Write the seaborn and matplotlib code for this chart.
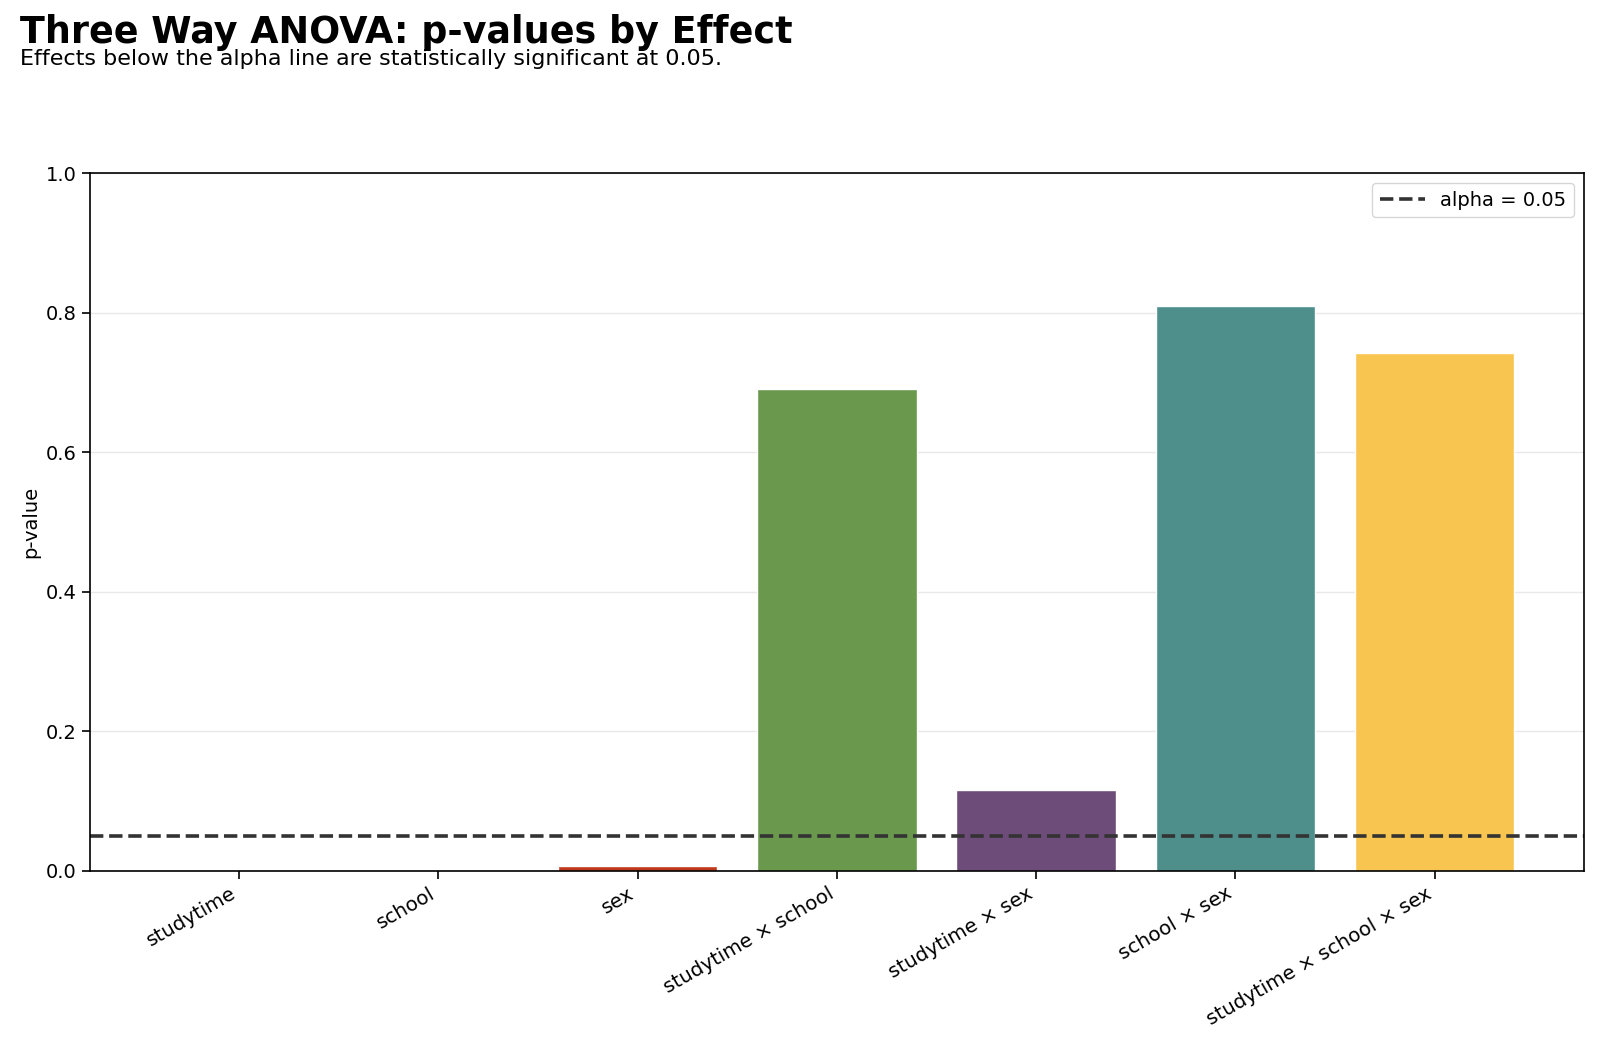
import matplotlib
matplotlib.use("Agg")
import matplotlib.pyplot as plt
import seaborn as sns
import pandas as pd

effects = ["studytime", "school", "sex", "studytime × school", "studytime × sex",
           "school × sex", "studytime × school × sex"]
p_values = [0.0001, 0.0001, 0.006, 0.69, 0.115, 0.81, 0.742]
colors = ["#2E6F9E", "#E08A2B", "#C0391B", "#6A994E", "#6D4C7A", "#4E8F8C", "#F8C550"]
alpha_level = 0.05

sns.set_style("ticks")
plt.rcParams['font.family'] = ['DejaVu Sans']
plt.rcParams.update({
    "text.color": "black", "axes.labelcolor": "black",
    "xtick.color": "black", "ytick.color": "black", "axes.edgecolor": "black",
})

df = pd.DataFrame({"effect": effects, "p": p_values})

fig = plt.figure(figsize=(16, 10.49), dpi=100)
ax = fig.add_axes([0.056, 0.17, 0.934, 0.665])
sns.barplot(data=df, x="effect", y="p", hue="effect", palette=colors, legend=False,
            ax=ax, width=0.8, saturation=1)
ax.axhline(alpha_level, color="#333333", linestyle="--", linewidth=2.6, label=f"alpha = {alpha_level}")
ax.set_ylim(0, 1)
ax.set_xlim(-0.75, 6.75)
ax.yaxis.grid(True, color="#e8e8e8", linewidth=1)
ax.set_axisbelow(True)
ax.set_xlabel("")
ax.set_ylabel("p-value", fontsize=14)
ax.tick_params(axis="both", labelsize=14, length=6, width=1.2)
ax.tick_params(axis="x", labelsize=14.3)
plt.setp(ax.get_xticklabels(), rotation=30, ha="right")
for s in ax.spines.values():
    s.set_linewidth(1.2)
ax.legend(loc="upper right", fontsize=14, frameon=True, handlelength=2.3)

fig.text(0.0125, 0.959, "Three Way ANOVA: p-values by Effect", fontsize=26.3, fontweight="bold", va="baseline")
fig.text(0.0125, 0.938, "Effects below the alpha line are statistically significant at 0.05.", fontsize=16, va="baseline")

fig.savefig("out.png", dpi=100)
